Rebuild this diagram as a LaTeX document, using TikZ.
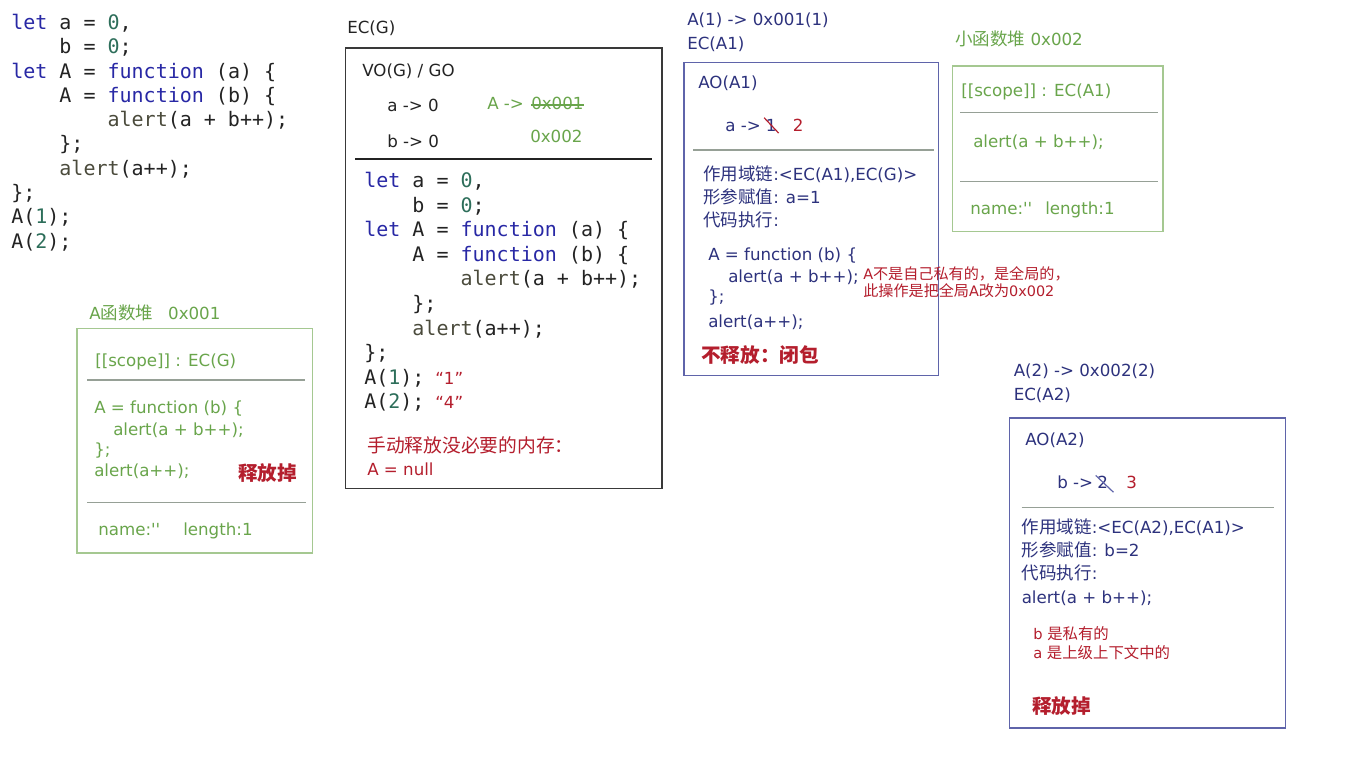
\documentclass[tikz,border=0pt]{standalone}
\usepackage{fontspec}
\setmainfont{DejaVu Sans}
\setmonofont{DejaVu Sans Mono}
\newfontfamily\cjk[Scale=1.05]{Noto Sans CJK SC}
\newfontfamily\plainq[Ligatures=ResetAll]{DejaVu Sans}
\definecolor{kw}{RGB}{40,40,165}
\definecolor{num}{RGB}{45,110,90}
\definecolor{fnc}{RGB}{75,75,60}
\definecolor{ink}{RGB}{35,35,35}
\definecolor{grn}{RGB}{105,165,75}
\definecolor{grnline}{RGB}{165,200,145}
\definecolor{grayline}{RGB}{150,160,150}
\definecolor{navy}{RGB}{45,50,125}
\definecolor{bluebox}{RGB}{95,100,170}
\definecolor{redt}{RGB}{180,30,45}
\newcommand{\zh}[1]{{\cjk #1}}
\newcommand{\kwd}[1]{\textcolor{kw}{#1}}
\newcommand{\nmb}[1]{\textcolor{num}{#1}}
\newcommand{\fnn}[1]{\textcolor{fnc}{#1}}
\newcommand{\IV}{\hphantom{xxxx}}
\newcommand{\VIII}{\hphantom{xxxxxxxx}}
\newcommand{\sq}{{\plainq ''}}
\tikzset{
  txt/.style={anchor=base west, inner sep=0pt, text=ink, font=\fontsize{12.5}{15}\selectfont},
  cd/.style={anchor=base west, inner sep=0pt, text=ink, font=\ttfamily\fontsize{15}{18}\selectfont},
  gtxt/.style={txt, text=grn},
  ntxt/.style={txt, text=navy},
  rtxt/.style={txt, text=redt},
  rbig/.style={txt, text=redt, font=\fontsize{14}{17}\selectfont\bfseries},
  rsmall/.style={txt, text=redt, font=\fontsize{10.8}{13}\selectfont},
  blackbox/.style={draw=ink!90, line width=1.1pt},
  greenbox/.style={draw=grnline, line width=1.1pt},
  bluerect/.style={draw=bluebox, line width=1.1pt},
  sep/.style={line width=1.1pt},
}
\begin{document}
\begin{tikzpicture}[x=0.75pt,y=-0.75pt]
\useasboundingbox (0,0) rectangle (1364,777);
\fill[white] (0,0) rectangle (1364,777);

% ---------- top-left code ----------
\node[cd] (c1) at (11,29.5) {\kwd{let} a = \nmb{0},};
\node[cd] (c2) at (11,53.8) {\IV b = \nmb{0};};
\node[cd] (c3) at (11,78.1) {\kwd{let} A = \kwd{function} (a) \{};
\node[cd] (c4) at (11,102.4) {\IV A = \kwd{function} (b) \{};
\node[cd] (c5) at (11,126.7) {\VIII\fnn{alert}(a + b++);};
\node[cd] (c6) at (11,151) {\IV \};};
\node[cd] (c7) at (11,175.3) {\IV\fnn{alert}(a++);};
\node[cd] (c8) at (11,199.6) {\};};
\node[cd] (c9) at (11,223.9) {A(\nmb{1});};
\node[cd] (c10) at (11,248.2) {A(\nmb{2});};

% ---------- A heap 0x001 ----------
\node[gtxt] (ahlabel) at (89,320) {A\zh{函数堆}\hspace{0.9em}0x001};
\draw[greenbox] (77,328.5) rectangle (312.5,553);
\node[gtxt] (ahscope) at (95,367) {[[scope]] : EC(G)};
\draw[sep, grayline] (87,380) -- (305,380);
\node[gtxt] (ah1) at (94,413) {A = function (b) \{};
\node[gtxt] (ah2) at (113,435) {alert(a + b++);};
\node[gtxt] (ah3) at (94,455) {\};};
\node[gtxt] (ah4) at (94,476) {alert(a++);};
\node[rbig] (ahfree) at (238,480) {\zh{释放掉}};
\draw[sep, grayline] (87,502.5) -- (306,502.5);
\node[gtxt] (ahname) at (98,535) {name:\sq};
\node[gtxt] (ahlen) at (183,535) {length:1};

% ---------- EC(G) ----------
\node[txt] (ecg) at (347,33.5) {EC(G)};
\draw[blackbox] (345.5,48) rectangle (662,488.5);
\node[txt] (vog) at (362,77) {VO(G) / GO};
\node[txt] (ga) at (387,112) {a -> 0};
\node[txt] (gb) at (387,148) {b -> 0};
\node[gtxt] (gA) at (487,110) {A -> };
\node[gtxt] (gold) at (531,110) {0x001};
\draw[grn, line width=0.9pt] ([yshift=3.8pt]gold.base west) -- ([yshift=3.8pt]gold.base east);
\node[gtxt] (gnew) at (530,143) {0x002};
\draw[sep, ink] (355,159) -- (652,159);
\node[cd] (g1) at (364,188) {\kwd{let} a = \nmb{0},};
\node[cd] (g2) at (364,212.5) {\IV b = \nmb{0};};
\node[cd] (g3) at (364,237) {\kwd{let} A = \kwd{function} (a) \{};
\node[cd] (g4) at (364,261.5) {\IV A = \kwd{function} (b) \{};
\node[cd] (g5) at (364,286) {\VIII\fnn{alert}(a + b++);};
\node[cd] (g6) at (364,310.5) {\IV \};};
\node[cd] (g7) at (364,335) {\IV\fnn{alert}(a++);};
\node[cd] (g8) at (364,359.5) {\};};
\node[cd] (g9) at (364,384) {A(\nmb{1});};
\node[cd] (g10) at (364,408.5) {A(\nmb{2});};
\node[rtxt] (r1) at (435,384) {“1”};
\node[rtxt] (r4) at (435,408.5) {“4”};
\node[rtxt, font=\fontsize{13.4}{16}\selectfont] (gnote) at (367,452) {\zh{手动释放没必要的内存：}};
\node[rtxt] (gnull) at (367,475) {A = null};

% ---------- EC(A1) ----------
\node[ntxt] (a1call) at (687,26) {A(1) -> 0x001(1)};
\node[ntxt] (eca1) at (687,49.5) {EC(A1)};
\draw[bluerect] (684,62.5) rectangle (938.5,375.5);
\node[ntxt] (ao1) at (698,89) {AO(A1)};
\node[ntxt] (a1a) at (725,131.5) {a -> };
\node[ntxt] (a1one) at (765.5,131.5) {1};
\draw[redt, line width=0.9pt] ([shift={(-1pt,1pt)}]a1one.north west) -- ([shift={(1.5pt,-1pt)}]a1one.south east);
\node[rtxt] (a1two) at (792.5,131.5) {2};
\draw[sep, grayline] (693,150) -- (934,150);
\node[ntxt] (a1s1) at (703,181) {\zh{作用域链}:<EC(A1),EC(G)>};
\node[ntxt] (a1s2) at (703,204) {\zh{形参赋值}: a=1};
\node[ntxt] (a1s3) at (703,227) {\zh{代码执行}:};
\node[ntxt] (a1c1) at (708,261) {A = function (b) \{};
\node[ntxt] (a1c2) at (728,283) {alert(a + b++);};
\node[ntxt] (a1c3) at (708,303) {\};};
\node[ntxt] (a1c4) at (708,328) {alert(a++);};
\node[rbig] (a1keep) at (701,363) {\zh{不释放：闭包}};
\node[rsmall] (ann1) at (863,280) {A\zh{不是自己私有的，是全局的，}};
\node[rsmall] (ann2) at (863,297) {\zh{此操作是把全局}A\zh{改为}0x002};

% ---------- small heap 0x002 ----------
\node[gtxt] (shlabel) at (955,46) {\zh{小函数堆} 0x002};
\draw[greenbox] (952.5,66) rectangle (1163,231.5);
\node[gtxt] (shscope) at (961,97) {[[scope]] : EC(A1)};
\draw[sep, grayline] (960,112.5) -- (1158,112.5);
\node[gtxt] (shcode) at (973,148) {alert(a + b++);};
\draw[sep, grayline] (960,181.5) -- (1158,181.5);
\node[gtxt] (shname) at (970,215) {name:\sq};
\node[gtxt] (shlen) at (1045,215) {length:1};

% ---------- EC(A2) ----------
\node[ntxt] (a2call) at (1013.5,376.5) {A(2) -> 0x002(2)};
\node[ntxt] (eca2) at (1013.5,400) {EC(A2)};
\draw[bluerect] (1009.5,418) rectangle (1285.5,728);
\node[ntxt] (ao2) at (1025,445.5) {AO(A2)};
\node[ntxt] (a2b) at (1057,488) {b -> };
\node[ntxt] (a2old) at (1097,488) {2};
\draw[bluebox, line width=0.9pt] ([shift={(-1pt,0pt)}]a2old.north west) -- ([shift={(4pt,-3pt)}]a2old.south east);
\node[rtxt] (a2new) at (1126,488) {3};
\draw[sep, grayline] (1021.5,507.5) -- (1273.5,507.5);
\node[ntxt] (a2s1) at (1021.5,533) {\zh{作用域链}:<EC(A2),EC(A1)>};
\node[ntxt] (a2s2) at (1021.5,556) {\zh{形参赋值}: b=2};
\node[ntxt] (a2s3) at (1021.5,579) {\zh{代码执行}:};
\node[ntxt] (a2c) at (1021.5,603) {alert(a + b++);};
\node[rsmall, font=\fontsize{11}{13}\selectfont] (a2n1) at (1033,639) {b \zh{是私有的}};
\node[rsmall, font=\fontsize{11}{13}\selectfont] (a2n2) at (1033,658) {a \zh{是上级上下文中的}};
\node[rbig] (a2free) at (1032,713) {\zh{释放掉}};
\end{tikzpicture}
\end{document}
